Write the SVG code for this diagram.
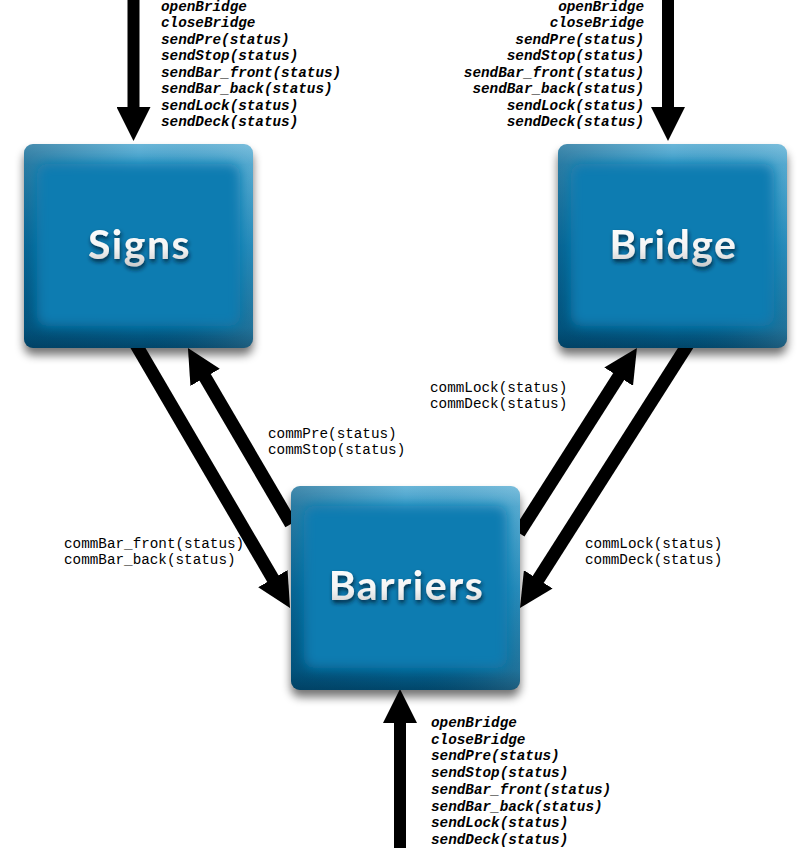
<svg xmlns="http://www.w3.org/2000/svg" xmlns:xlink="http://www.w3.org/1999/xlink" width="801" height="848" viewBox="0 0 801 848">
<style>
.lbl{font-family:"Liberation Mono","Courier New",monospace;font-size:14.3px;fill:#000}
.it{font-style:italic;font-weight:bold}
.conn{stroke:#000;fill:none;stroke-linecap:butt}
.title{font-family:Lato,"Open Sans",sans-serif;font-weight:bold;font-size:41px;letter-spacing:1.5px;text-anchor:middle;fill:url(#txtG)}
</style>
<defs>
<linearGradient id="edgeV" x1="0" y1="0" x2="0" y2="1">
<stop offset="0" stop-color="#6ab6d8"/>
<stop offset="0.1" stop-color="#3f9ec9"/>
<stop offset="0.5" stop-color="#0b7cb1"/>
<stop offset="0.9" stop-color="#03608d"/>
<stop offset="1" stop-color="#01466a"/>
</linearGradient>
<linearGradient id="edgeH" x1="0" y1="0" x2="1" y2="0">
<stop offset="0" stop-color="#003a5c" stop-opacity="0.35"/>
<stop offset="0.5" stop-color="#003a5c" stop-opacity="0"/>
<stop offset="1" stop-color="#ffffff" stop-opacity="0.12"/>
</linearGradient>
<linearGradient id="txtG" x1="0" y1="0" x2="0" y2="1">
<stop offset="0" stop-color="#ffffff"/>
<stop offset="0.6" stop-color="#f4f4f4"/>
<stop offset="1" stop-color="#c8c8c8"/>
</linearGradient>
<filter id="soft" x="-20%" y="-20%" width="140%" height="140%"><feGaussianBlur stdDeviation="6"/></filter>
<filter id="shadow" x="-20%" y="-20%" width="140%" height="140%"><feGaussianBlur stdDeviation="5"/></filter>
<filter id="tshadow" x="-20%" y="-30%" width="140%" height="170%">
<feGaussianBlur in="SourceAlpha" stdDeviation="2"/>
<feOffset dx="1" dy="3" result="b"/>
<feFlood flood-color="#001a2a" flood-opacity="0.8"/>
<feComposite in2="b" operator="in" result="s"/>
<feMerge><feMergeNode in="s"/><feMergeNode in="SourceGraphic"/></feMerge>
</filter>
<clipPath id="boxClip"><rect width="229" height="204" rx="9"/></clipPath>
<g id="box">
<rect x="0" y="7" width="229" height="204" rx="9" fill="#000" opacity="0.55" filter="url(#shadow)"/>
<g clip-path="url(#boxClip)">
<rect width="229" height="204" fill="url(#edgeV)"/>
<rect width="229" height="204" fill="url(#edgeH)"/>
<rect x="13" y="20" width="203" height="162" rx="10" fill="#0a7cb1" filter="url(#soft)"/>
</g>
</g>
<marker id="head" viewBox="0 0 34 34" markerUnits="userSpaceOnUse" markerWidth="34" markerHeight="34" refX="4" refY="17" orient="auto">
<path d="M0,0 L34,17 L0,34 Z" fill="#000"/>
</marker>
</defs>
<rect width="801" height="848" fill="#fff"/>
<g id="connectors">
<line class="conn" x1="133.5" y1="0" x2="133.5" y2="111" stroke-width="12" marker-end="url(#head)"/>
<line class="conn" x1="668" y1="0" x2="668" y2="111" stroke-width="12" marker-end="url(#head)"/>
<line class="conn" x1="400" y1="848" x2="400" y2="719" stroke-width="12" marker-end="url(#head)"/>
<line class="conn" x1="133" y1="339.5" x2="274.9" y2="582.1" stroke-width="13" marker-end="url(#head)"/>
<line class="conn" x1="291" y1="524" x2="203.1" y2="373.9" stroke-width="13" marker-end="url(#head)"/>
<line class="conn" x1="519" y1="533" x2="620.8" y2="373.3" stroke-width="13" marker-end="url(#head)"/>
<line class="conn" x1="691" y1="339.5" x2="536.1" y2="582.7" stroke-width="13" marker-end="url(#head)"/>
</g>
<g id="labels">
<text class="lbl it" x="161" y="10.5">openBridge</text>
<text class="lbl it" x="161" y="27">closeBridge</text>
<text class="lbl it" x="161" y="43.5">sendPre(status)</text>
<text class="lbl it" x="161" y="60">sendStop(status)</text>
<text class="lbl it" x="161" y="76.5">sendBar_front(status)</text>
<text class="lbl it" x="161" y="93">sendBar_back(status)</text>
<text class="lbl it" x="161" y="109.5">sendLock(status)</text>
<text class="lbl it" x="161" y="126">sendDeck(status)</text>
<g text-anchor="end">
<text class="lbl it" x="644" y="10.5">openBridge</text>
<text class="lbl it" x="644" y="27">closeBridge</text>
<text class="lbl it" x="644" y="43.5">sendPre(status)</text>
<text class="lbl it" x="644" y="60">sendStop(status)</text>
<text class="lbl it" x="644" y="76.5">sendBar_front(status)</text>
<text class="lbl it" x="644" y="93">sendBar_back(status)</text>
<text class="lbl it" x="644" y="109.5">sendLock(status)</text>
<text class="lbl it" x="644" y="126">sendDeck(status)</text>
</g>
<text class="lbl it" x="431" y="727">openBridge</text>
<text class="lbl it" x="431" y="743.7">closeBridge</text>
<text class="lbl it" x="431" y="760.4">sendPre(status)</text>
<text class="lbl it" x="431" y="777.1">sendStop(status)</text>
<text class="lbl it" x="431" y="793.8">sendBar_front(status)</text>
<text class="lbl it" x="431" y="810.5">sendBar_back(status)</text>
<text class="lbl it" x="431" y="827.2">sendLock(status)</text>
<text class="lbl it" x="431" y="843.9">sendDeck(status)</text>
<text class="lbl" x="268" y="438">commPre(status)</text>
<text class="lbl" x="268" y="454">commStop(status)</text>
<text class="lbl" x="64" y="548">commBar_front(status)</text>
<text class="lbl" x="64" y="564">commBar_back(status)</text>
<text class="lbl" x="430" y="392">commLock(status)</text>
<text class="lbl" x="430" y="408">commDeck(status)</text>
<text class="lbl" x="585" y="548">commLock(status)</text>
<text class="lbl" x="585" y="564">commDeck(status)</text>
</g>
<g id="signs">
<use xlink:href="#box" x="24" y="144"/>
<text class="title" x="139.5" y="259" filter="url(#tshadow)">Signs</text>
</g>
<g id="bridge">
<use xlink:href="#box" x="558" y="144"/>
<text class="title" x="673.5" y="259" filter="url(#tshadow)">Bridge</text>
</g>
<g id="barriers">
<use xlink:href="#box" x="291" y="486"/>
<text class="title" x="406.5" y="600" filter="url(#tshadow)">Barriers</text>
</g>
</svg>
